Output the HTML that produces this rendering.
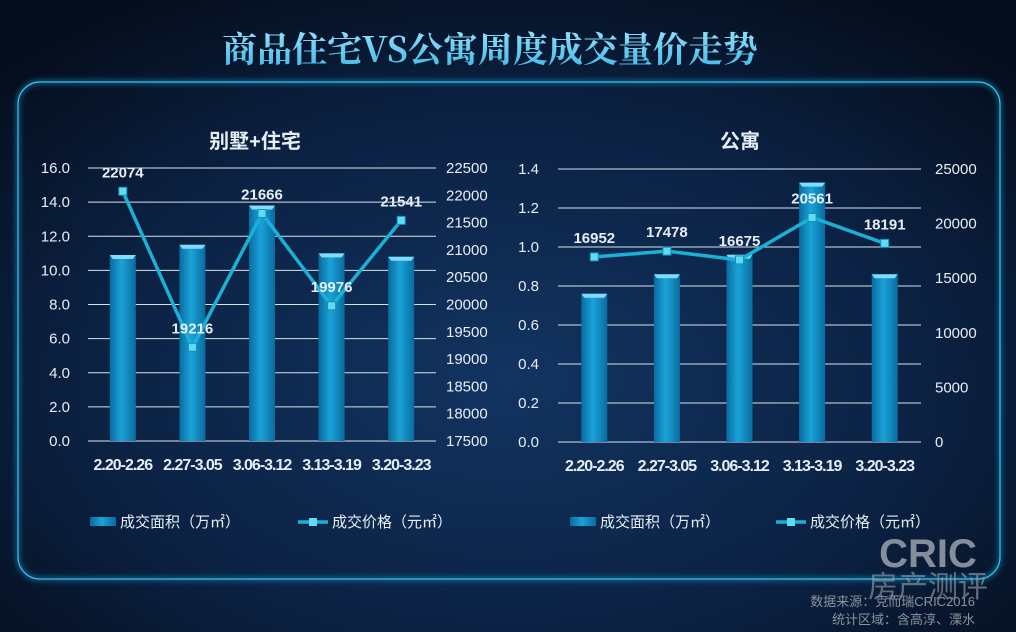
<!DOCTYPE html>
<html><head><meta charset="utf-8"><style>
html,body{margin:0;padding:0;width:1016px;height:632px;overflow:hidden;background:#08162b;}
svg{display:block;font-family:"Liberation Sans","Noto Sans CJK SC",sans-serif;}
</style></head><body>
<svg id="c" width="1016" height="632" viewBox="0 0 1016 632">
<defs>
<radialGradient id="bg" cx="0.5" cy="0.6" r="0.7">
<stop offset="0" stop-color="#123461"/><stop offset="0.6" stop-color="#0b2142"/><stop offset="1" stop-color="#050d1c"/>
</radialGradient>
<linearGradient id="bar" x1="0" x2="1" y1="0" y2="0">
<stop offset="0" stop-color="#0a6b9f"/><stop offset="0.45" stop-color="#1aa3d8"/><stop offset="1" stop-color="#0a6b9f"/>
</linearGradient>
<linearGradient id="tt" x1="0" x2="0" y1="0" y2="1">
<stop offset="0" stop-color="#9fe6ff"/><stop offset="1" stop-color="#3ab6e4"/>
</linearGradient>
<filter id="glow"><feGaussianBlur stdDeviation="3"/></filter>
</defs>
<rect width="1016" height="632" fill="url(#bg)"/>
<text x="490" y="62" text-anchor="middle" font-size="35" font-weight="bold" fill="url(#tt)" font-family="'Noto Serif CJK SC','Liberation Serif',serif">商品住宅VS公寓周度成交量价走势</text>
<rect x="18" y="82" width="982" height="497" rx="22" fill="none" stroke="#1fa8de" stroke-width="3" opacity="0.7" filter="url(#glow)"/>
<rect x="18" y="82" width="982" height="497" rx="22" fill="none" stroke="#37c3f0" stroke-width="1.2"/>
<g id="left"></g><g id="right"></g>
<text x="928" y="567" text-anchor="middle" font-size="40" font-weight="bold" fill="#9aa3ad" opacity="0.85">CRIC</text>
<text x="928" y="597" text-anchor="middle" font-size="30" fill="#9aa3ad" opacity="0.6">房产测评</text>
<text x="975" y="606" text-anchor="end" font-size="13" fill="#8a929c">数据来源：克而瑞CRIC2016</text>
<text x="975" y="624" text-anchor="end" font-size="13" fill="#8a929c">统计区域：含高淳、溧水</text>
</svg>
<script>
const categories = ["2.20-2.26","2.27-3.05","3.06-3.12","3.13-3.19","3.20-3.23"];
const leftArea = [10.9, 11.5, 13.8, 11.0, 10.8];
const leftPrice = [22074, 19216, 21666, 19976, 21541];
const leftTicksL = ["0.0","2.0","4.0","6.0","8.0","10.0","12.0","14.0","16.0"];
const leftTicksR = ["17500","18000","18500","19000","19500","20000","20500","21000","21500","22000","22500"];
const rightArea = [0.76, 0.86, 0.96, 1.33, 0.86];
const rightPrice = [16952, 17478, 16675, 20561, 18191];
const rightTicksL = ["0.0","0.2","0.4","0.6","0.8","1.0","1.2","1.4"];
const rightTicksR = ["0","5000","10000","15000","20000","25000"];

const NS="http://www.w3.org/2000/svg";
function mk(tag,attrs,parent,text){const e=document.createElementNS(NS,tag);for(const k in attrs)e.setAttribute(k,attrs[k]);if(text!==undefined)e.textContent=text;parent.appendChild(e);return e;}

function draw(g,cfg){
  const {x0,x1,yTop,yBot,lMin,lMax,rMin,rMax,area,price,tl,tr,title,titleX,lx,rx,legY,legX1,legX2}=cfg;
  const yl=v=>yBot-(v-lMin)/(lMax-lMin)*(yBot-yTop);
  const yr=v=>yBot-(v-rMin)/(rMax-rMin)*(yBot-yTop);
  const bw=(x1-x0)/categories.length;
  const xc=i=>x0+bw*(i+0.5);
  let t=mk('text',{x:titleX,y:148,'text-anchor':'middle','font-size':20,'font-weight':'bold',fill:'#e6eef5'},g,title);
  
  
  tl.forEach(s=>{const v=parseFloat(s);const y=yl(v);
    const l=mk('line',{x1:x0,x2:x1,y1:y,y2:y,stroke:'#d8e2ea','stroke-width':1},g);
    
    
    const tx=mk('text',{x:lx,y:y+5,'text-anchor':'end','font-size':15,fill:'#e6eef5'},g,s);
    
    });
  tr.forEach(s=>{const v=parseFloat(s);const y=yr(v);
    const tx=mk('text',{x:rx,y:y+5,'text-anchor':'start','font-size':15,fill:'#e6eef5'},g,s);
    
    });
  area.forEach((v,i)=>{const w=26,x=xc(i)-w/2,y=yl(v);
    const b=mk('rect',{x:x,y:y,width:w,height:yBot-y,fill:'url(#bar)'},g);
    
    
    const c=mk('polygon',{points:`${x},${y} ${x+w},${y} ${x+w-3},${y+4} ${x+3},${y+4}`,fill:'#7fdcff'},g);
    
    });
  categories.forEach((c,i)=>{const tx=mk('text',{x:xc(i),y:yBot+29,'text-anchor':'middle','font-size':16,'font-weight':'bold',fill:'#e6eef5','letter-spacing':'-1'},g,c);
    
    });
  const pts=price.map((v,i)=>xc(i)+','+yr(v)).join(' ');
  const pl=mk('polyline',{points:pts,fill:'none',stroke:'#1bb0d6','stroke-width':3.5},g);
  
  
  price.forEach((v,i)=>{const x=xc(i),y=yr(v);
    const m=mk('rect',{x:x-4,y:y-4,width:8,height:8,fill:'#5fdcf2',stroke:'#1590b8','stroke-width':1},g);
    
    
    const tx=mk('text',{x:x,y:y-14,'text-anchor':'middle','font-size':15,'font-weight':'bold',fill:'#e6eef5'},g,String(v));
    
    });
  const lb=mk('rect',{x:legX1,y:legY-5,width:26,height:9,fill:'url(#bar)'},g);
  
  
  const lt=mk('text',{x:legX1+30,y:legY+5,'font-size':15,fill:'#e6eef5'},g,'成交面积（万㎡）');
  
  
  const ll=mk('line',{x1:legX2,x2:legX2+30,y1:legY,y2:legY,stroke:'#1bb0d6','stroke-width':3.5},g);
  
  
  const lm=mk('rect',{x:legX2+11,y:legY-4,width:8,height:8,fill:'#5fdcf2'},g);
  
  
  const lt2=mk('text',{x:legX2+34,y:legY+5,'font-size':15,fill:'#e6eef5'},g,'成交价格（元㎡）');
  
  
}
draw(document.getElementById('left'),{x0:88,x1:436,yTop:168,yBot:441,lMin:0,lMax:16,rMin:17500,rMax:22500,area:leftArea,price:leftPrice,tl:leftTicksL,tr:leftTicksR,title:'别墅+住宅',titleX:255,lx:70,rx:446,legY:522,legX1:90,legX2:298});
draw(document.getElementById('right'),{x0:558,x1:921,yTop:169,yBot:442,lMin:0,lMax:1.4,rMin:0,rMax:25000,area:rightArea,price:rightPrice,tl:rightTicksL,tr:rightTicksR,title:'公寓',titleX:740,lx:539,rx:935,legY:522,legX1:570,legX2:776});
</script>
</body></html>
